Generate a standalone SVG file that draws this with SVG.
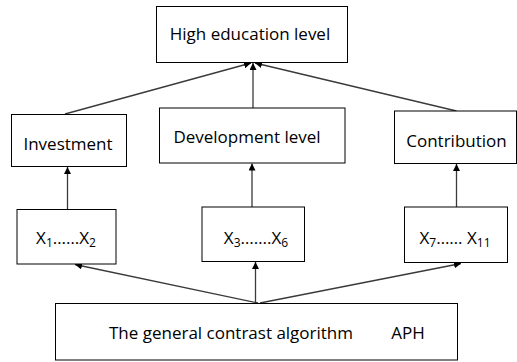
<svg xmlns="http://www.w3.org/2000/svg" width="517" height="362" viewBox="0 0 517 362">
<defs>
<style>
.box{fill:#fff;stroke:#000;stroke-width:1}
.t{font-family:"Open Sans","Liberation Sans",sans-serif;font-size:17px;fill:#000;text-anchor:middle}
.sub{font-size:12px}
.c{stroke:#3a3a3a;stroke-width:1.3;fill:none;marker-end:url(#ah)}
</style>
<marker id="ah" markerUnits="userSpaceOnUse" markerWidth="8" markerHeight="8" refX="7" refY="3.5" orient="auto">
<path d="M0,0 L7,3.5 L0,7 z" fill="#000"/>
</marker>
</defs>
<rect width="517" height="362" fill="#fff"/>
<g id="connectors">
<line class="c" x1="65" y1="114" x2="251" y2="63"/>
<line class="c" x1="253" y1="108" x2="253" y2="63"/>
<line class="c" x1="456.5" y1="111" x2="255" y2="63"/>
<line class="c" x1="67.5" y1="209" x2="67.5" y2="167"/>
<line class="c" x1="252" y1="207" x2="252" y2="163.5"/>
<line class="c" x1="456.5" y1="207" x2="456.5" y2="164"/>
<line class="c" x1="258" y1="303" x2="75" y2="264.5"/>
<line class="c" x1="255.5" y1="303" x2="255.5" y2="262"/>
<line class="c" x1="260" y1="303" x2="461" y2="263.5"/>
</g>
<g id="high">
<rect class="box" x="156.5" y="6.5" width="191" height="56"/>
<text class="t" x="250" y="39.5">High education level</text>
</g>
<g id="investment">
<rect class="box" x="11.5" y="114.5" width="115" height="52"/>
<text class="t" x="68" y="150">Investment</text>
</g>
<g id="development">
<rect class="box" x="159.5" y="108" width="185.5" height="55"/>
<text class="t" x="247" y="143">Development level</text>
</g>
<g id="contribution">
<rect class="box" x="394.5" y="111" width="122" height="52.5"/>
<text class="t" x="456.5" y="147">Contribution</text>
</g>
<g id="x1">
<rect class="box" x="17" y="209.5" width="99" height="54.5"/>
<text class="t" x="66" y="244">X<tspan class="sub" dy="3">1</tspan><tspan dy="-3">……X</tspan><tspan class="sub" dy="3">2</tspan></text>
</g>
<g id="x3">
<rect class="box" x="202" y="207" width="102.5" height="54.5"/>
<text class="t" x="256" y="243.5">X<tspan class="sub" dy="3">3</tspan><tspan dy="-3">…….X</tspan><tspan class="sub" dy="3">6</tspan></text>
</g>
<g id="x7">
<rect class="box" x="404.5" y="207" width="103" height="55.5"/>
<text class="t" x="455" y="244">X<tspan class="sub" dy="3">7</tspan><tspan dy="-3">…… X</tspan><tspan class="sub" dy="3">11</tspan></text>
</g>
<g id="algorithm">
<rect class="box" x="55.5" y="303.5" width="402" height="56.5"/>
<text class="t" x="231" y="339">The general contrast algorithm<tspan x="408">APH</tspan></text>
</g>
</svg>
